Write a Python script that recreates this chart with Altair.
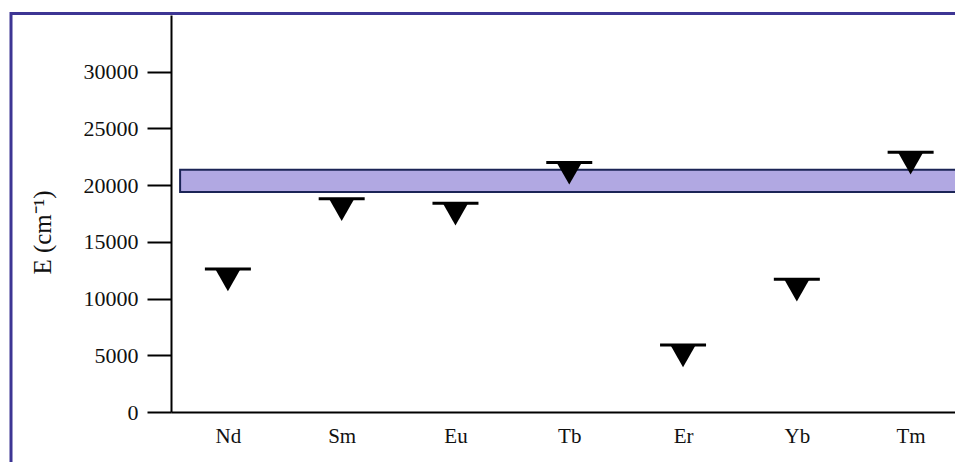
import altair as alt
import pandas as pd

# Lanthanide ions and their estimated energy levels (cm^-1)
ions = ["Nd", "Sm", "Eu", "Tb", "Er", "Yb", "Tm"]
energies = [12600, 18800, 18400, 22000, 5900, 11700, 22900]

# Energy window highlighted as a shaded band (cm^-1)
band_lo = [19400]
band_hi = [21350]

y_ticks = [0, 5000, 10000, 15000, 20000, 25000, 30000]

FONT = "Liberation Serif, Times New Roman, serif"
W, H = 784, 397

df = pd.DataFrame({"ion": ions, "idx": list(range(len(ions))), "E": energies})
band_df = pd.DataFrame({"lo": band_lo, "hi": band_hi})
frame_df = pd.DataFrame({"k": [0]})

labels_js = "[" + ",".join(f"'{s}'" for s in ions) + "]"

x_scale = alt.Scale(domain=[-0.5, 6.39], nice=False, zero=False)
y_scale = alt.Scale(domain=[0, 35000], nice=False)

x_axis = alt.Axis(
    values=list(range(len(ions))),
    labelExpr=f"{labels_js}[datum.value]",
    ticks=False, grid=False, title=None,
    domainColor="black", domainWidth=2,
    labelFont=FONT, labelFontSize=21, labelColor="#111",
    labelPadding=13,
)
y_axis = alt.Axis(
    values=y_ticks, format="d", grid=False, title="E (cm\u207b\u00b9)",
    tickSize=24, tickWidth=2, tickColor="black",
    domainColor="black", domainWidth=2,
    labelFont=FONT, labelFontSize=22, labelColor="#111", labelPadding=9,
    titleFont=FONT, titleFontSize=25, titleFontWeight="normal", titleColor="#111",
    titleAngle=-90, titleX=-129, titleY=217, titleAlign="center", titleBaseline="middle",
)

# Outer purple frame around the figure
frame = alt.Chart(frame_df).mark_rect(
    fill=None, stroke="#3d3594", strokeWidth=3
).encode(
    x=alt.value(-160), x2=alt.value(W + 60),
    y=alt.value(-1.5), y2=alt.value(H + 80),
)

band = alt.Chart(band_df).mark_rect(
    fill="#b1a8e2", stroke="#1b2456", strokeWidth=2
).encode(
    x=alt.datum(-0.42, scale=x_scale),
    x2=alt.datum(7.5),
    y=alt.Y("lo:Q", scale=y_scale, axis=y_axis),
    y2="hi:Q",
)

levels = alt.Chart(df).mark_tick(
    orient="horizontal", size=46, thickness=3, color="black", opacity=1
).encode(
    x=alt.X("idx:Q", scale=x_scale, axis=x_axis),
    y=alt.Y("E:Q", scale=y_scale, axis=y_axis),
)

arrows = alt.Chart(df).mark_point(
    shape="M-1,0L1,0L0,1.75Z", size=640, filled=True, color="black", opacity=1
).encode(
    x=alt.X("idx:Q", scale=x_scale, axis=x_axis),
    y=alt.Y("E:Q", scale=y_scale, axis=y_axis),
)

chart = alt.layer(frame, band, levels, arrows).properties(
    width=W, height=H,
    autosize=alt.AutoSizeParams(type="none"),
    padding={"left": 171, "top": 15, "right": 0, "bottom": 50},
    background="white",
).configure_view(stroke=None)

chart.save("out.html", embed_options={"renderer": "svg", "actions": False})
